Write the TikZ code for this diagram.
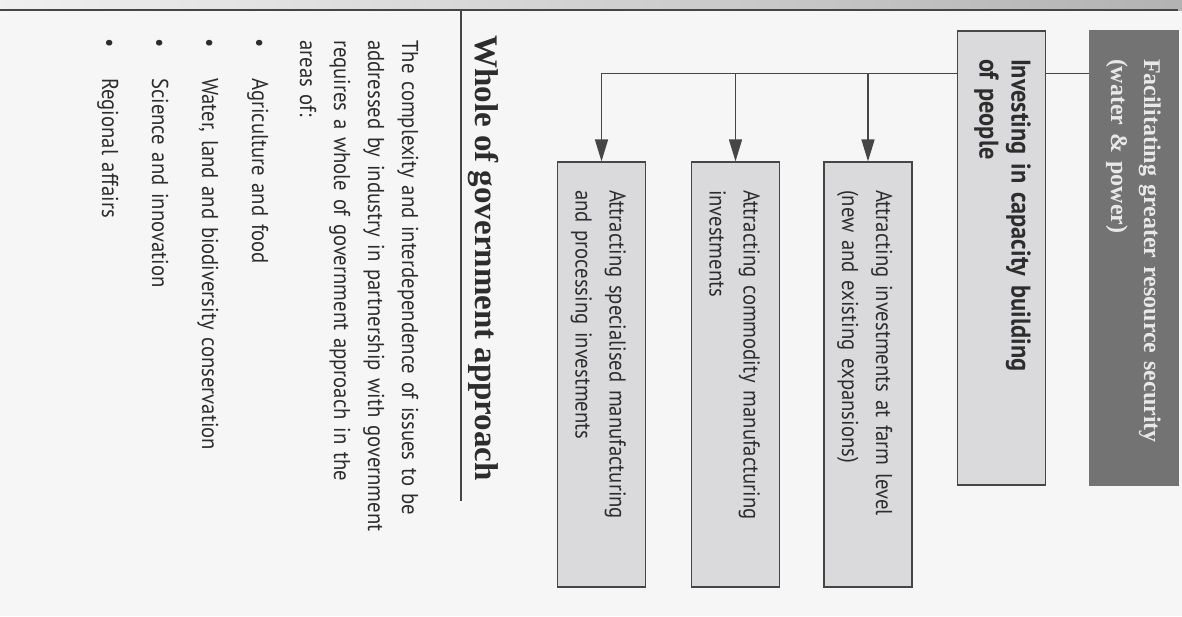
\documentclass[tikz,border=0pt]{standalone}
\usepackage{fontspec}
\setsansfont{PT Sans}[FakeStretch=0.9]
\newfontfamily\headfont{Liberation Serif}
\usetikzlibrary{arrows.meta, calc}

\definecolor{pagebg}{RGB}{246,246,246}
\definecolor{inkgrey}{RGB}{45,45,45}
\definecolor{edgegrey}{RGB}{70,70,70}
\definecolor{boxgrey}{RGB}{218,218,220}
\definecolor{darkgrey}{RGB}{115,115,115}
\definecolor{palegrey}{RGB}{232,232,232}

\begin{document}
\begin{tikzpicture}[
    x=1pt, y=-1pt,
    >={Triangle[length=22pt,width=13pt]},
    every node/.style={text=inkgrey},
    % --- boxes (page is turned a quarter clockwise) ---
    box/.style={
      draw=edgegrey, line width=1.2pt, rotate=-90,
      inner xsep=28pt, inner ysep=0pt, align=left,
      text height=36pt, text depth=52pt,
    },
    topbox/.style={box, inner xsep=20pt, text width=414pt},
    lowbox/.style={box, text width=369pt, fill=boxgrey,
      font=\sffamily\fontsize{23}{34}\selectfont},
    leadbox/.style={topbox, fill=darkgrey, draw=darkgrey, text=palegrey,
      text height=34pt, text depth=54pt,
      font=\headfont\bfseries\fontsize{24}{33}\selectfont},
    peoplebox/.style={topbox, fill=boxgrey,
      text height=34pt, text depth=54pt,
      font=\sffamily\bfseries\fontsize{27}{32}\selectfont},
    % --- text column ---
    head/.style={rotate=-90, inner sep=0pt,
      font=\headfont\bfseries\fontsize{33}{40}\selectfont},
    body/.style={rotate=-90, inner sep=0pt, align=left, text width=580pt,
      font=\sffamily\fontsize{23}{34}\selectfont},
    listing/.style={body, font=\sffamily\fontsize{23}{50}\selectfont},
    % --- lines ---
    rule/.style={draw=edgegrey, line width=1.4pt},
    trunk/.style={draw=edgegrey, line width=1.5pt},
    flow/.style={->, draw=edgegrey, line width=1.5pt},
  ]

  % page and strip above the rule
  \path[use as bounding box, fill=pagebg] (0,0) rectangle (1182,616);
  \shade[left color=gray!12, right color=gray!60] (0,0) rectangle (1182,10);
  \draw[rule] (0,10) -- (1178,10);

  %% ---- Boxes ----
  \node[leadbox] (facil) at (1134,258)
    {\hspace*{8pt}Facilitating greater resource security\\
     \hspace*{8pt}(water \& power)};
  \node[peoplebox] (invest) at (1001.5,258)
    {\hspace*{8pt}Investing in capacity building\\
     \hspace*{8pt}of people};

  \node[lowbox] (farm) at (868,374.5)
    {Attracting investments at farm level\\(new and existing expansions)};
  \node[lowbox] (commod) at (735.5,374.5)
    {Attracting commodity manufacturing\\investments};
  \node[lowbox] (spec) at (601.5,374.5)
    {Attracting specialised manufacturing\\and processing investments};

  %% ---- Connectors ----
  \path (facil.south west) ++(0,43) coordinate (split);
  \draw[trunk] (split) -- (split -| invest.north);
  \draw[trunk] (split -| invest.south) -- (split -| spec.west);
  \foreach \b in {farm, commod, spec}
    \draw[flow] (split -| \b.west) -- (\b.west);

  %% ---- Text column ----
  \draw[rule] (461,10) -- (461,501);
  \node[head, anchor=base west] (head) at (475,35)
    {Whole of government approach};

  \node[body, anchor=base west] (para) at (402,40)
    {The complexity and interdependence of issues to be\\
     addressed by industry in partnership with government\\
     requires a whole of government approach in the\\
     areas of:};
  \node[listing, anchor=base west] (areas) at (252,38)
    {\makebox[40pt][l]{\textbullet}Agriculture and food\\
     \makebox[40pt][l]{\textbullet}Water, land and biodiversity conservation\\
     \makebox[40pt][l]{\textbullet}Science and innovation\\
     \makebox[40pt][l]{\textbullet}Regional affairs};

\end{tikzpicture}
\end{document}
